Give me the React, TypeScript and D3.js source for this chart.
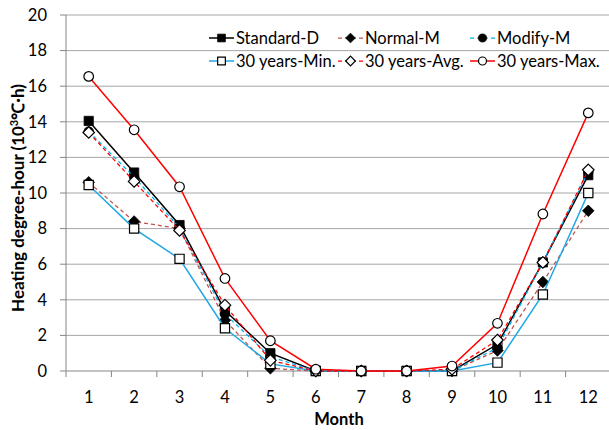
import React, { useEffect, useRef } from "react";
import * as d3 from "d3";

const months = ["1", "2", "3", "4", "5", "6", "7", "8", "9", "10", "11", "12"];
const yTicks = [0, 2, 4, 6, 8, 10, 12, 14, 16, 18, 20];

const standardD = [14.05, 11.15, 8.2, 3.4, 1.0, 0, 0, 0, 0, 1.5, 6.1, 11.0];
const normalM = [10.6, 8.4, 8.0, 2.85, 0.15, 0, 0, 0, 0, 1.15, 5.0, 9.0];
const modifyM = [13.45, 10.9, 8.05, 3.2, 0.8, 0, 0, 0, 0, 1.3, 6.1, 11.2];
const min30 = [10.45, 8.0, 6.3, 2.4, 0.4, 0, 0, 0, 0, 0.47, 4.3, 10.0];
const avg30 = [13.4, 10.65, 7.9, 3.7, 0.6, 0, 0, 0, 0.1, 1.74, 6.1, 11.3];
const max30 = [16.55, 13.55, 10.35, 5.2, 1.7, 0.1, 0, 0, 0.28, 2.68, 8.82, 14.5];

const seriesNames = ["Standard-D", "Normal-M", "Modify-M", "30 years-Min.", "30 years-Avg.", "30 years-Max."];

export default function App() {
  const ref = useRef(null);

  useEffect(() => {
    const svg = d3.select(ref.current);
    svg.selectAll("*").remove();
    const font = "Lato, 'Open Sans', sans-serif";
    const left = 66, right = 611, top = 15, bottom = 371;

    const x = d3.scalePoint().domain(months).range([left, right]).padding(0.5);
    const y = d3.scaleLinear().domain([0, 20]).range([bottom, top]);

    // gridlines
    svg.append("g")
      .selectAll("line")
      .data(yTicks)
      .enter()
      .append("line")
      .attr("x1", left).attr("x2", right)
      .attr("y1", (d) => y(d)).attr("y2", (d) => y(d))
      .attr("stroke", (d) => (d === 0 ? "#868686" : "#a6a6a6"))
      .attr("stroke-width", 1);

    // y axis
    svg.append("line")
      .attr("x1", left).attr("x2", left).attr("y1", top).attr("y2", bottom)
      .attr("stroke", "#868686");
    svg.append("g")
      .selectAll("line")
      .data(yTicks)
      .enter()
      .append("line")
      .attr("x1", left - 6).attr("x2", left)
      .attr("y1", (d) => y(d)).attr("y2", (d) => y(d))
      .attr("stroke", "#868686");
    svg.append("g")
      .selectAll("text")
      .data(yTicks)
      .enter()
      .append("text")
      .attr("x", left - 19)
      .attr("y", (d) => y(d))
      .attr("dy", "0.35em")
      .attr("text-anchor", "end")
      .attr("font-family", font)
      .attr("font-size", 16.5)
      .attr("fill", "#000")
      .text((d) => d);

    // x axis ticks (between categories)
    const step = x.step();
    const xTickPos = d3.range(13).map((i) => left + i * step);
    svg.append("g")
      .selectAll("line")
      .data(xTickPos)
      .enter()
      .append("line")
      .attr("x1", (d) => d).attr("x2", (d) => d)
      .attr("y1", bottom).attr("y2", bottom + 6)
      .attr("stroke", "#868686");
    svg.append("g")
      .selectAll("text")
      .data(months)
      .enter()
      .append("text")
      .attr("x", (d) => x(d))
      .attr("y", 397)
      .attr("dy", "0.35em")
      .attr("text-anchor", "middle")
      .attr("font-family", font)
      .attr("font-size", 16.5)
      .text((d) => d);

    svg.append("text")
      .attr("x", 339)
      .attr("y", 419)
      .attr("dy", "0.35em")
      .attr("text-anchor", "middle")
      .attr("font-family", font)
      .attr("font-weight", "bold")
      .attr("font-size", 16.5)
      .text("Month");

    svg.append("text")
      .attr("transform", "translate(18,198) rotate(-90)")
      .attr("dy", "0.35em")
      .attr("text-anchor", "middle")
      .attr("font-family", font)
      .attr("font-weight", "bold")
      .attr("font-size", 17)
      .html("Heating degree-hour (10<tspan dy='-6' font-size='11'>3</tspan><tspan dy='6'>℃·h)</tspan>");

    const series = [
      { name: seriesNames[0], values: standardD, color: "#000000", dash: null, width: 1.5, marker: "square", fill: "#000" },
      { name: seriesNames[1], values: normalM, color: "#c0504d", dash: "4,3", width: 1.25, marker: "diamond", fill: "#000" },
      { name: seriesNames[2], values: modifyM, color: "#00b0f0", dash: "4,3", width: 1.25, marker: "circle", fill: "#000" },
      { name: seriesNames[3], values: min30, color: "#1fa8e6", dash: null, width: 1.5, marker: "square", fill: "#fff" },
      { name: seriesNames[4], values: avg30, color: "#ff0000", dash: "4,3", width: 1.25, marker: "diamond", fill: "#fff" },
      { name: seriesNames[5], values: max30, color: "#ff0000", dash: null, width: 1.5, marker: "circle", fill: "#fff" },
    ];

    const symbolFor = (m) =>
      m === "square" ? d3.symbolSquare : m === "diamond" ? d3.symbolDiamond2 : d3.symbolCircle;
    const sizeFor = (m) => (m === "square" ? 85 : m === "diamond" ? 85 : 72);

    const line = d3.line()
      .x((d, i) => x(months[i]))
      .y((d) => y(d));

    const plot = svg.append("g");
    series.forEach((s) => {
      plot.append("path")
        .datum(s.values)
        .attr("d", line)
        .attr("fill", "none")
        .attr("stroke", s.color)
        .attr("stroke-width", s.width)
        .attr("stroke-dasharray", s.dash);
      plot.append("g")
        .selectAll("path")
        .data(s.values)
        .enter()
        .append("path")
        .attr("transform", (d, i) => "translate(" + x(months[i]) + "," + y(d) + ")")
        .attr("d", d3.symbol().type(symbolFor(s.marker)).size(sizeFor(s.marker)))
        .attr("fill", s.fill)
        .attr("stroke", "#000")
        .attr("stroke-width", s.fill === "#fff" ? 1.2 : 0.8);
    });

    // legend
    const legendCols = [209, 338, 470];
    const legendRows = [38, 61];
    const lg = svg.append("g");
    series.forEach((s, i) => {
      const cx = legendCols[i % 3];
      const cy = legendRows[Math.floor(i / 3)];
      lg.append("line")
        .attr("x1", cx).attr("x2", cx + 25)
        .attr("y1", cy).attr("y2", cy)
        .attr("stroke", s.color)
        .attr("stroke-width", s.width)
        .attr("stroke-dasharray", s.dash);
      lg.append("path")
        .attr("transform", "translate(" + (cx + 12.5) + "," + cy + ")")
        .attr("d", d3.symbol().type(symbolFor(s.marker)).size(sizeFor(s.marker) * 0.7))
        .attr("fill", s.fill)
        .attr("stroke", "#000")
        .attr("stroke-width", s.fill === "#fff" ? 1.2 : 0.8);
      lg.append("text")
        .attr("x", cx + 27)
        .attr("y", cy)
        .attr("dy", "0.35em")
        .attr("font-family", font)
        .attr("font-size", 16.5)
        .text(s.name);
    });
  }, []);

  return (
    <svg
      ref={ref}
      width={609}
      height={430}
      style={{ position: "absolute", left: 0, top: 0, background: "#fff" }}
    />
  );
}
